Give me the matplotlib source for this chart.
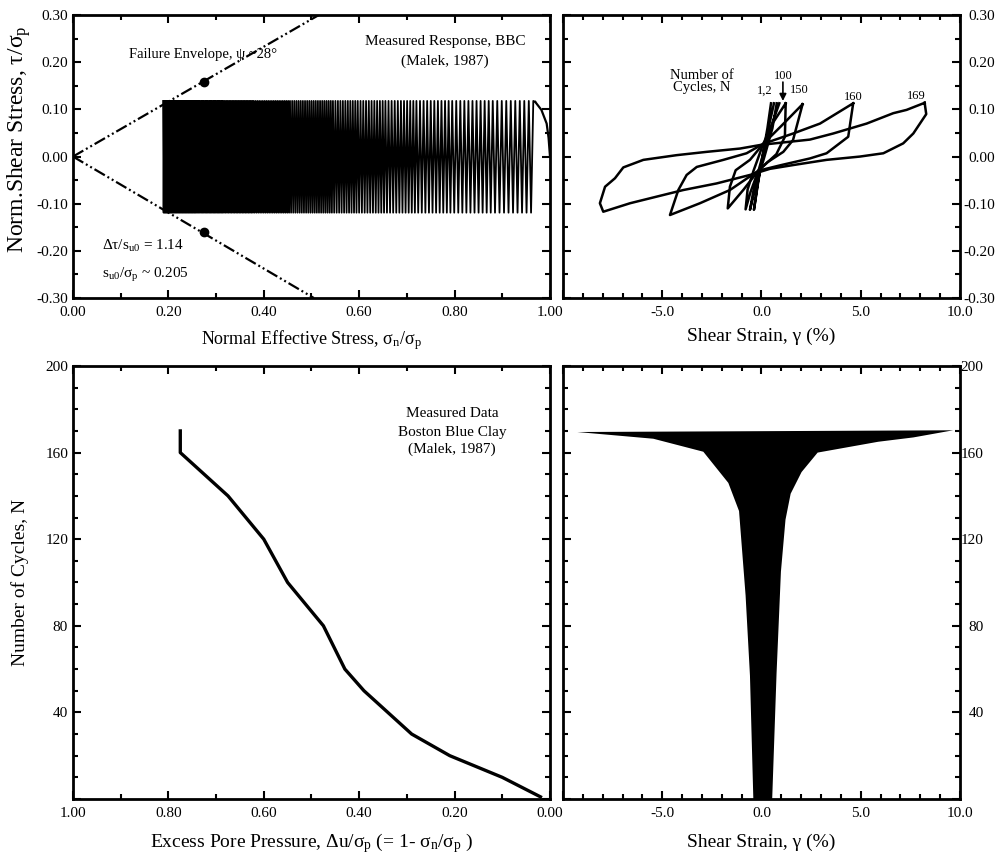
import matplotlib
matplotlib.use('Agg')
import matplotlib.pyplot as plt
import numpy as np
from matplotlib.ticker import MultipleLocator, FuncFormatter

# ---- data ----
# excess pore pressure vs number of cycles (bottom left)
pp_cycles = [1, 10, 20, 30, 50, 60, 80, 100, 120, 140, 160, 170]
pp_du = [0.02, 0.10, 0.21, 0.29, 0.39, 0.43, 0.475, 0.55, 0.60, 0.675, 0.775, 0.775]

# effective stress path (top left): sigma_n at some cycles, cyclic shear +/- tau
path_cycles = [1, 10, 20, 30, 40, 50, 60, 80, 100, 120, 140, 160, 169]
path_sn = [0.965, 0.880, 0.795, 0.720, 0.655, 0.597, 0.545, 0.455, 0.379, 0.315, 0.259, 0.209, 0.189]
tau_top = 0.118
tau_bot = -0.119
init_sn = [1.0, 0.997, 0.993, 0.982, 0.969]
init_tau = [0.0, 0.04, 0.07, 0.099, 0.116]

# failure envelope
env_up_sn = [0.0, 0.515]
env_up_tau = [0.0, 0.30]
env_lo_sn = [0.0, 0.505]
env_lo_tau = [0.0, -0.30]
env_pts_sn = [0.275, 0.275]
env_pts_tau = [0.159, -0.161]

# hysteresis loops (top right): shear strain (%) and tau/sigma_p
loop_1_g = [0.48, 0.30, 0.05, -0.20, -0.38, -0.15, 0.10, 0.35, 0.63]
loop_1_t = [0.113, 0.06, 0.0, -0.06, -0.113, -0.05, 0.01, 0.06, 0.113]
loop_2_g = [0.77, 0.55, 0.15, -0.20, -0.58, -0.35, 0.05, 0.45, 0.90]
loop_2_t = [0.113, 0.06, 0.0, -0.05, -0.113, -0.06, 0.0, 0.06, 0.113]
loop_100_g = [1.22, 1.18, 0.75, 0.10, -0.16, -0.55, -0.80, -0.70, -0.40, 0.09, 0.55, 1.22]
loop_100_t = [0.113, 0.042, 0.005, -0.02, -0.03, -0.075, -0.112, -0.07, -0.03, 0.027, 0.07, 0.113]
loop_150_g = [2.07, 1.59, 1.10, 0.30, -0.16, -0.90, -1.70, -1.59, -1.30, -0.58, 0.09, 1.0, 2.07]
loop_150_t = [0.111, 0.035, 0.010, -0.012, -0.03, -0.07, -0.110, -0.064, -0.029, -0.007, 0.027, 0.065, 0.111]
loop_160_g = [4.62, 4.37, 3.28, 2.44, 1.0, -0.16, -1.59, -3.10, -4.61, -4.19, -3.77, -3.26,
              -1.92, -0.75, 0.09, 1.6, 2.95, 4.62]
loop_160_t = [0.113, 0.042, 0.007, -0.004, -0.018, -0.03, -0.071, -0.099, -0.124, -0.071, -0.039,
              -0.022, -0.007, 0.007, 0.027, 0.049, 0.070, 0.113]
loop_169_g = [8.22, 8.30, 7.65, 7.14, 6.14, 4.96, 3.28, 1.60, 0.43, -0.58, -2.26, -3.94, -5.28,
              -6.62, -7.97, -8.14, -7.88, -7.38, -6.96, -5.95, -4.27, -2.76, -1.08, 0.0, 2.44,
              3.62, 5.30, 6.64, 7.31, 8.22]
loop_169_t = [0.114, 0.090, 0.049, 0.028, 0.007, 0.0, -0.007, -0.018, -0.026, -0.039, -0.057,
              -0.071, -0.085, -0.099, -0.117, -0.099, -0.064, -0.046, -0.023, -0.007, 0.003,
              0.010, 0.017, 0.025, 0.036, 0.049, 0.070, 0.092, 0.099, 0.114]

# strain envelope vs cycles (bottom right)
right_g = [0.54, 0.76, 0.98, 1.21, 1.47, 2.02, 2.83, 5.88, 7.65, 9.66]
right_n = [0, 58, 105, 129, 141, 151, 160, 165, 167, 170.3]
left_g = [-9.28, -5.45, -2.93, -1.67, -1.13, -0.80, -0.58, -0.41]
left_n = [169.5, 166.4, 160.4, 146, 133, 94, 57, 0]


def main():
    plt.rcParams['font.family'] = ['Liberation Serif', 'DejaVu Serif']
    plt.rcParams['mathtext.fontset'] = 'custom'
    plt.rcParams['mathtext.rm'] = 'Liberation Serif'
    plt.rcParams['mathtext.it'] = 'Liberation Serif'
    plt.rcParams['lines.scale_dashes'] = False

    tick_fs = 11
    lab_fs = 14
    txt_fs = 11

    fig = plt.figure(figsize=(9.98, 8.65), dpi=100)
    ax1 = fig.add_axes([0.0731, 0.6555, 0.478, 0.327])
    ax2 = fig.add_axes([0.5641, 0.6555, 0.3978, 0.327])
    ax3 = fig.add_axes([0.0731, 0.0763, 0.478, 0.5006])
    ax4 = fig.add_axes([0.5641, 0.0763, 0.3978, 0.5006])

    def fmt(dec, hide=()):
        def f(v, pos):
            if abs(v) < 1e-9:
                v = 0.0
            for h in hide:
                if abs(v - h) < 1e-9:
                    return ''
            return f'{v:.{dec}f}'
        return FuncFormatter(f)

    for ax in (ax1, ax2, ax3, ax4):
        for s in ax.spines.values():
            s.set_linewidth(2.0)
        ax.tick_params(which='both', direction='in', top=True, bottom=True,
                       left=True, right=True, width=1.5, labelsize=tick_fs)
        ax.tick_params(which='major', length=6)
        ax.tick_params(which='minor', length=3.5)
        ax.tick_params(axis='x', pad=6)

    # ---- top left: stress path ----
    half = np.arange(2, 2 * path_cycles[-1] + 1) / 2.0
    zz_sn = np.interp(half, path_cycles, path_sn)
    zz_tau = np.where(half % 1 == 0, tau_top, tau_bot)
    ax1.plot(init_sn, init_tau, color='black', lw=1.6)
    ax1.plot(np.r_[init_sn[-1], zz_sn], np.r_[init_tau[-1], zz_tau], color='black', lw=1.3)
    dash = (0, (8.6, 2.2, 1.4, 2.2, 1.4, 2.2))
    ax1.plot(env_up_sn, env_up_tau, color='black', lw=1.6, linestyle=dash)
    ax1.plot(env_lo_sn, env_lo_tau, color='black', lw=1.6, linestyle=dash)
    ax1.plot(env_pts_sn, env_pts_tau, 'o', color='black', ms=6)
    ax1.set_xlim(0, 1)
    ax1.set_ylim(-0.3, 0.3)
    ax1.xaxis.set_major_locator(MultipleLocator(0.2))
    ax1.xaxis.set_minor_locator(MultipleLocator(0.1))
    ax1.yaxis.set_major_locator(MultipleLocator(0.1))
    ax1.yaxis.set_minor_locator(MultipleLocator(0.05))
    ax1.xaxis.set_major_formatter(fmt(2))
    ax1.yaxis.set_major_formatter(fmt(2))
    ax1.tick_params(axis='y', pad=3.5)
    ax1.set_xlabel(r'Normal Effective Stress, $\mathregular{σ_n/σ_p}$', fontsize=13)
    ax1.set_ylabel(r'Norm.Shear Stress, $\mathregular{τ/σ_p}$', fontsize=17)
    ax1.xaxis.set_label_coords(0.5, -0.105)
    ax1.yaxis.set_label_coords(-0.083, 0.56)
    ax1.text(0.118, 0.209, 'Failure Envelope, ψ ~28°', fontsize=10.5, va='baseline')
    ax1.text(0.78, 0.236, 'Measured Response, BBC', fontsize=txt_fs, ha='center', va='baseline')
    ax1.text(0.78, 0.194, '(Malek, 1987)', fontsize=txt_fs, ha='center', va='baseline')
    ax1.text(0.06, -0.198, r'$\mathregular{Δτ/s_{u0}}$ = 1.14', fontsize=txt_fs, va='baseline')
    ax1.text(0.06, -0.258, r'$\mathregular{s_{u0}/σ_p}$ ~ 0.205', fontsize=txt_fs, va='baseline')

    # ---- top right: hysteresis loops ----
    for g, t in ((loop_1_g, loop_1_t), (loop_2_g, loop_2_t), (loop_100_g, loop_100_t),
                 (loop_150_g, loop_150_t), (loop_160_g, loop_160_t), (loop_169_g, loop_169_t)):
        ax2.plot(g, t, color='black', lw=1.8, solid_joinstyle='round')
    ax2.set_xlim(-10, 10)
    ax2.set_ylim(-0.3, 0.3)
    ax2.xaxis.set_major_locator(MultipleLocator(5))
    ax2.xaxis.set_minor_locator(MultipleLocator(1))
    ax2.yaxis.set_major_locator(MultipleLocator(0.1))
    ax2.yaxis.set_minor_locator(MultipleLocator(0.05))
    ax2.xaxis.set_major_formatter(fmt(1, hide=(-10,)))
    ax2.yaxis.set_major_formatter(fmt(2))
    ax2.tick_params(axis='y', labelleft=False, labelright=True, pad=25)
    ax2.set_xlabel('Shear Strain, γ (%)', fontsize=lab_fs)
    ax2.xaxis.set_label_coords(0.5, -0.105)
    ax2.text(-3.0, 0.1655, 'Number of', fontsize=10.5, ha='center', va='baseline')
    ax2.text(-3.0, 0.1385, 'Cycles, N', fontsize=10.5, ha='center', va='baseline')
    ax2.text(1.08, 0.164, '100', fontsize=9, ha='center', va='baseline')
    ax2.text(0.18, 0.134, '1,2', fontsize=9, ha='center', va='baseline')
    ax2.text(1.90, 0.134, '150', fontsize=9, ha='center', va='baseline')
    ax2.text(4.62, 0.119, '160', fontsize=9, ha='center', va='baseline')
    ax2.text(7.82, 0.122, '169', fontsize=9, ha='center', va='baseline')
    ax2.annotate('', xy=(1.08, 0.118), xytext=(1.08, 0.158),
                 arrowprops=dict(arrowstyle='-|>', color='black', lw=1.2,
                                 mutation_scale=10, shrinkA=0, shrinkB=0))

    # ---- bottom left: pore pressure ----
    ax3.plot(pp_du, pp_cycles, color='black', lw=2.4)
    ax3.set_xlim(1, 0)
    ax3.set_ylim(0, 200)
    ax3.xaxis.set_major_locator(MultipleLocator(0.2))
    ax3.xaxis.set_minor_locator(MultipleLocator(0.1))
    ax3.yaxis.set_major_locator(MultipleLocator(40))
    ax3.yaxis.set_minor_locator(MultipleLocator(10))
    ax3.xaxis.set_major_formatter(fmt(2))
    ax3.yaxis.set_major_formatter(fmt(0, hide=(0,)))
    ax3.tick_params(axis='y', pad=3.5)
    ax3.set_xlabel(r'Excess Pore Pressure, $\mathregular{Δu/σ_p}$ (= 1- $\mathregular{σ_n/σ_p}$ )',
                   fontsize=lab_fs)
    ax3.set_ylabel('Number of Cycles, N', fontsize=lab_fs)
    ax3.xaxis.set_label_coords(0.5, -0.075)
    ax3.yaxis.set_label_coords(-0.092, 0.5)
    ax3.text(0.205, 176.3, 'Measured Data', fontsize=txt_fs, ha='center', va='baseline')
    ax3.text(0.205, 167.8, 'Boston Blue Clay', fontsize=txt_fs, ha='center', va='baseline')
    ax3.text(0.205, 160.0, '(Malek, 1987)', fontsize=txt_fs, ha='center', va='baseline')

    # ---- bottom right: strain envelope ----
    ax4.fill(np.r_[right_g, left_g], np.r_[right_n, left_n], color='black', lw=0)
    ax4.set_xlim(-10, 10)
    ax4.set_ylim(0, 200)
    ax4.xaxis.set_major_locator(MultipleLocator(5))
    ax4.xaxis.set_minor_locator(MultipleLocator(1))
    ax4.yaxis.set_major_locator(MultipleLocator(40))
    ax4.yaxis.set_minor_locator(MultipleLocator(10))
    ax4.xaxis.set_major_formatter(fmt(1, hide=(-10,)))
    ax4.yaxis.set_major_formatter(fmt(0, hide=(0,)))
    ax4.tick_params(axis='y', labelleft=False, labelright=True, pad=17)
    ax4.set_xlabel('Shear Strain, γ (%)', fontsize=lab_fs)
    ax4.xaxis.set_label_coords(0.5, -0.08)

    fig.canvas.draw()
    for ax in (ax2, ax4):
        for lab in ax.get_yticklabels():
            lab.set_horizontalalignment('right')

    fig.savefig('out.png', dpi=100)


if __name__ == '__main__':
    main()
